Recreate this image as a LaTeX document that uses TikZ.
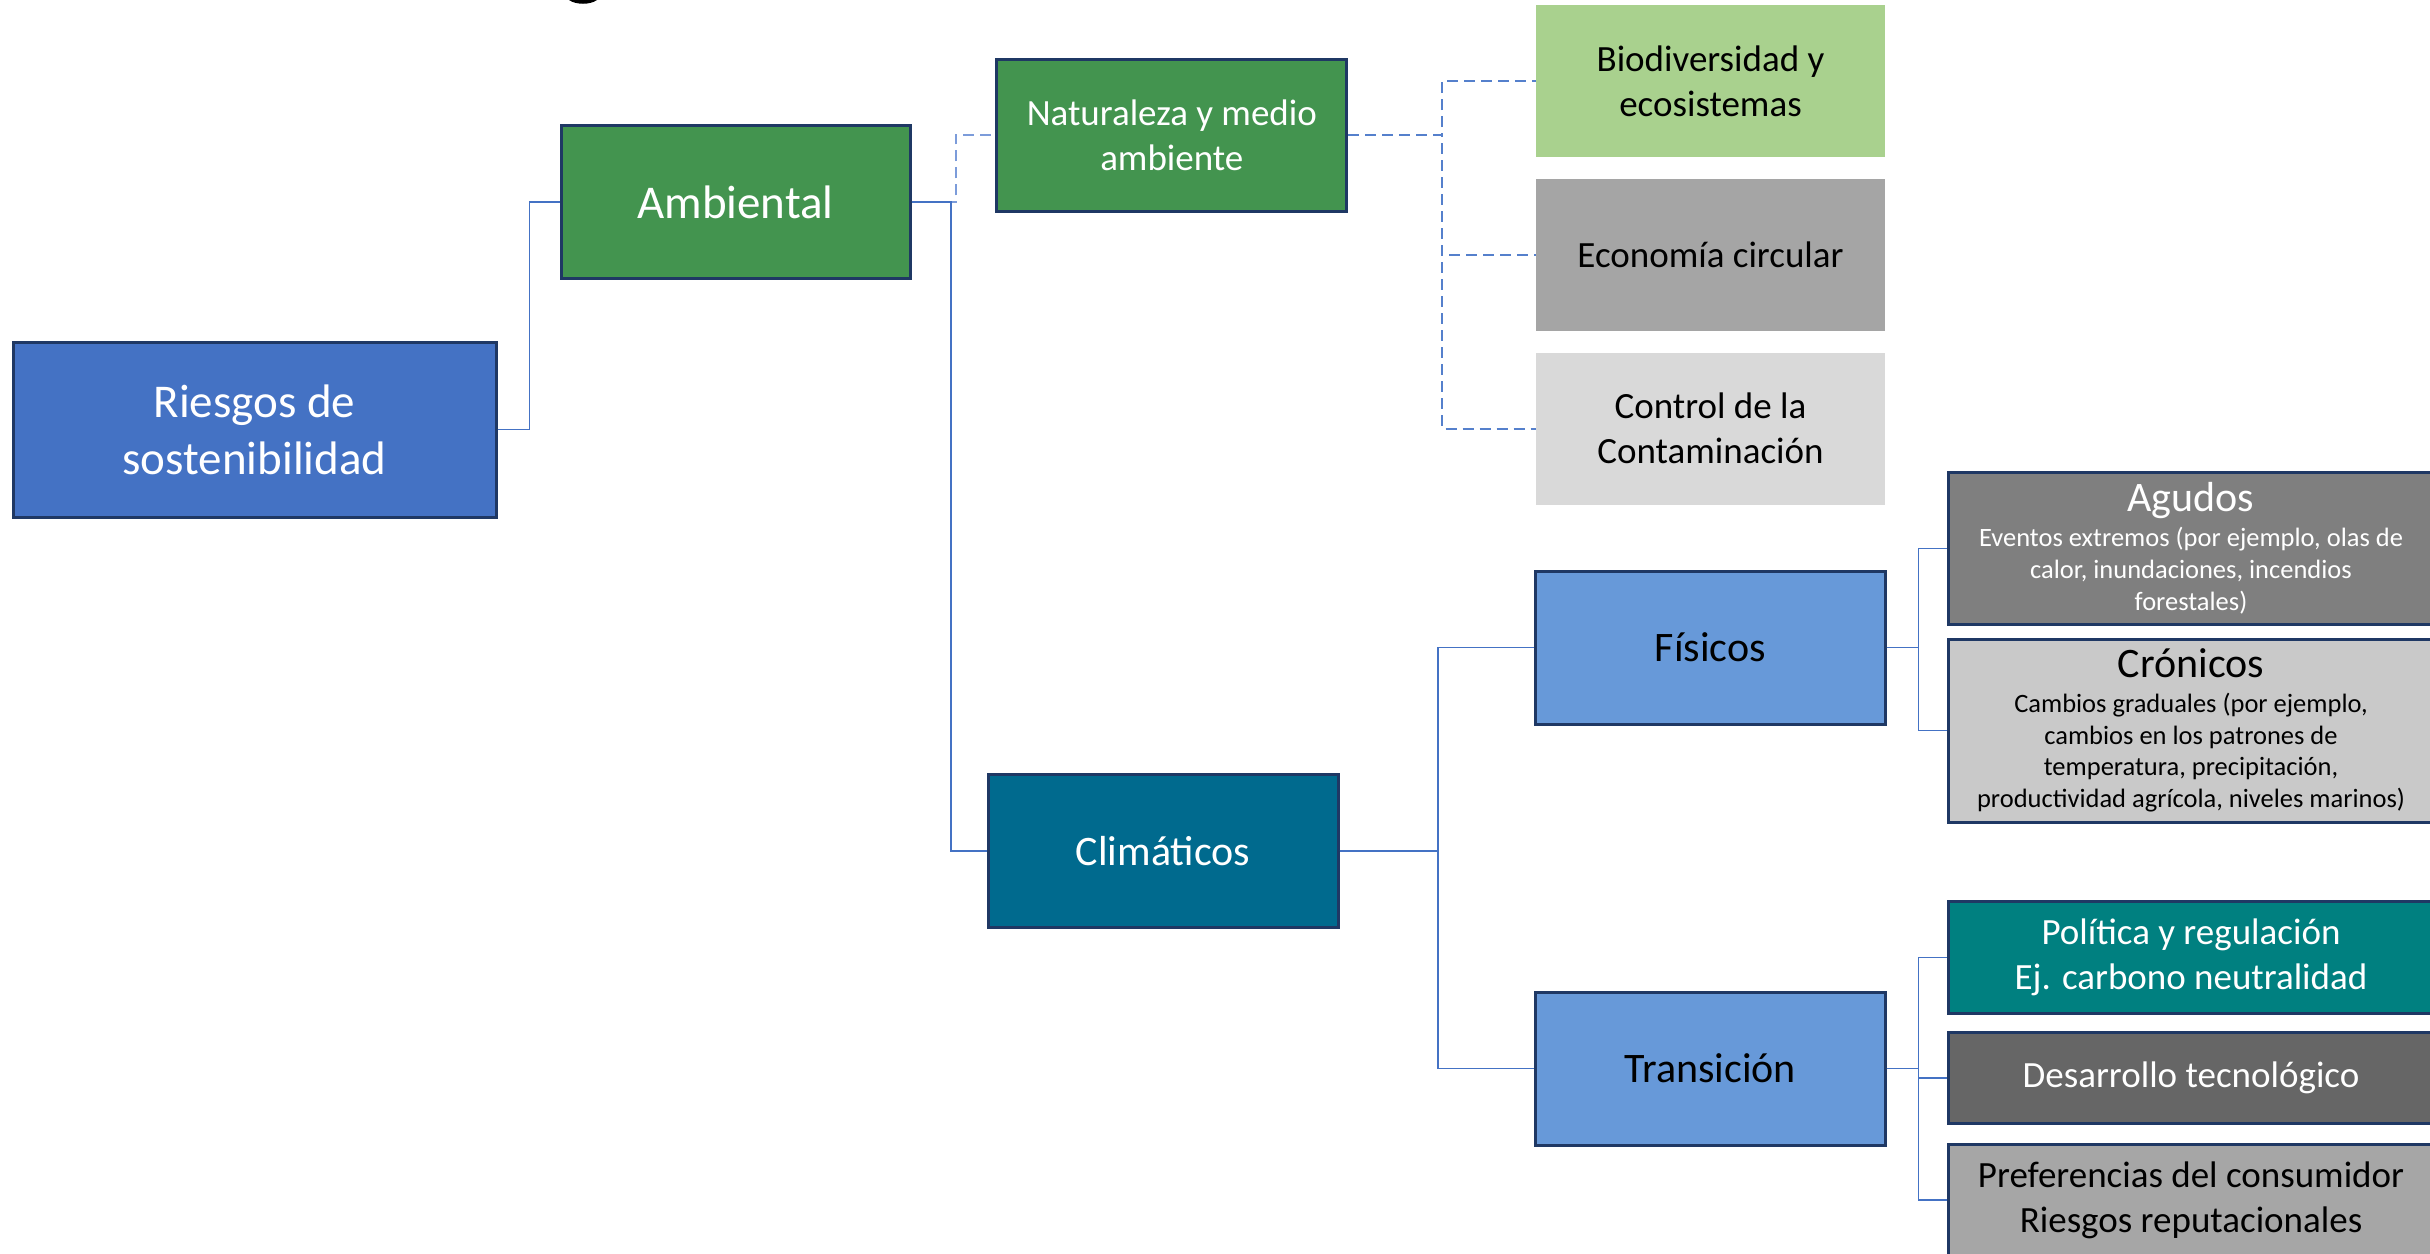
\documentclass[tikz,border=0pt]{standalone}
\usepackage{fontspec}
\setmainfont{Carlito}
\definecolor{cRies}{HTML}{4472C4}
\definecolor{cGreen}{HTML}{43944F}
\definecolor{cClim}{HTML}{006A8E}
\definecolor{cFis}{HTML}{6799D9}
\definecolor{cBio}{HTML}{A9D18E}
\definecolor{cEco}{HTML}{A5A5A5}
\definecolor{cCon}{HTML}{D9D9D9}
\definecolor{cAgu}{HTML}{7F7F7F}
\definecolor{cCro}{HTML}{C9C9C9}
\definecolor{cPol}{HTML}{008080}
\definecolor{cDes}{HTML}{666666}
\definecolor{cPre}{HTML}{A6A6A6}
\definecolor{cBorder}{HTML}{1F3864}
\definecolor{cLine}{HTML}{4472C4}
\definecolor{cDashA}{HTML}{7C9CDA}
\definecolor{cDashB}{HTML}{5580CC}
\begin{document}
\begin{tikzpicture}[x=1pt,y=-1pt,
  box/.style={draw=cBorder, line width=3pt, inner sep=0pt, align=center},
  flat/.style={inner sep=0pt, align=center},
  big/.style={font=\fontsize{47}{57.3}\selectfont},
  mid/.style={font=\fontsize{42}{51}\selectfont},
  std/.style={font=\fontsize{37}{45}\selectfont},
  small/.style={font=\fontsize{26.5}{31.8}\selectfont},
  conn/.style={draw=cLine, line width=1.8pt},
  dconnA/.style={draw=cDashA, line width=2pt, dash pattern=on 11pt off 6pt},
  dconnB/.style={draw=cDashB, line width=2pt, dash pattern=on 11pt off 6pt}]
\clip (0,0) rectangle (2430,1253);
\useasboundingbox (0,0) rectangle (2430,1253);
\fill[white] (0,0) rectangle (2430,1253);

% fragment of a cut-off glyph at the top edge
\fill[black] (569,0) .. controls (576,5) and (590,5) .. (597,0) -- cycle;

% level 0
\node[box, big, fill=cRies, text=white, minimum width=483, minimum height=175] (ries) at (254.5,429.5) {Riesgos de\\sostenibilidad};
% level 1
\node[box, big, fill=cGreen, text=white, minimum width=349, minimum height=153] (amb) at (735.5,202.3) {Ambiental};
% level 2
\node[box, std, fill=cGreen, text=white, minimum width=350, minimum height=152] (nat) at (1171.8,135) {Naturaleza y medio\\ambiente};
\node[box, mid, fill=cClim, text=white, minimum width=350, minimum height=153] (clim) at (1163,851) {Climáticos};
% level 3 (nature)
\node[flat, std, fill=cBio, text=black, minimum width=349, minimum height=152] (bio) at (1710.5,80.8) {Biodiversidad y\\ecosistemas};
\node[flat, std, fill=cEco, text=black, minimum width=349, minimum height=152] (eco) at (1710.5,255) {Economía circular};
\node[flat, std, fill=cCon, text=black, minimum width=349, minimum height=152] (con) at (1710.5,428.7) {Control de la\\Contaminación};
% level 3 (climate)
\node[box, mid, fill=cFis, text=black, minimum width=349.4, minimum height=153] (fis) at (1710.3,647.5) {Físicos};
\node[box, mid, fill=cFis, text=black, minimum width=349.4, minimum height=153] (tra) at (1710.3,1068.5) {Transición};
% level 4
\node[box, small, fill=cAgu, text=white, minimum width=486, minimum height=151.3] (agu) at (2191,548.4)
  {{\fontsize{42}{50}\selectfont Agudos}\\[3pt]Eventos extremos (por ejemplo, olas de\\calor, inundaciones, incendios\\forestales)};
\node[box, small, fill=cCro, text=black, minimum width=486, minimum height=183] (cro) at (2191,730.5)
  {{\fontsize{42}{50}\selectfont Crónicos}\\[3pt]Cambios graduales (por ejemplo,\\cambios en los patrones de\\temperatura, precipitación,\\productividad agrícola, niveles marinos)};
\node[box, std, fill=cPol, text=white, minimum width=486, minimum height=111.6] (pol) at (2191,957.5) {Política y regulación\\Ej. carbono neutralidad};
\node[box, std, fill=cDes, text=white, minimum width=486, minimum height=90.3] (des) at (2191,1078) {Desarrollo tecnológico};
\node[box, std, fill=cPre, text=black, minimum width=486, minimum height=112] (pre) at (2191,1200) {Preferencias del consumidor\\Riesgos reputacionales};

% connectors
\draw[conn] (ries.east) -- ++(32,0) |- (amb.west);
\draw[dconnA] (amb.east) -- ++(44,0) |- (nat.west);
\draw[conn] (amb.east) -- ++(39.5,0) |- (clim.west);
\draw[dconnB] (nat.east) -- ++(94,0) |- (bio.west);
\draw[dconnB] (nat.east) -- ++(94,0) |- (eco.west);
\draw[dconnB] (nat.east) -- ++(94,0) |- (con.west);
\draw[conn] (clim.east) -- ++(98.6,0) |- (fis.west);
\draw[conn] (clim.east) -- ++(98.6,0) |- (tra.west);
\draw[conn] (fis.east) -- ++(32,0) |- (agu.west);
\draw[conn] (fis.east) -- ++(32,0) |- (cro.west);
\draw[conn] (tra.east) -- ++(32,0) |- (pol.west);
\draw[conn] (tra.east) -- ++(32,0) |- (des.west);
\draw[conn] (tra.east) -- ++(32,0) |- (pre.west);
\end{tikzpicture}
\end{document}
